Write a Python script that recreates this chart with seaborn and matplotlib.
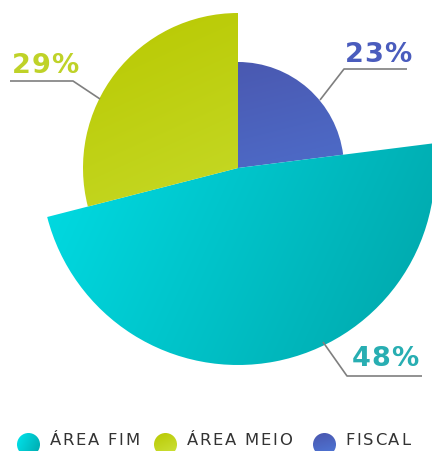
import numpy as np
import pandas as pd
import matplotlib
matplotlib.use("Agg")
import matplotlib.pyplot as plt
from matplotlib.patches import Wedge, Circle
import seaborn as sns

# data
categories = ["FISCAL", "ÁREA FIM", "ÁREA MEIO"]
shares = [23, 48, 29]
pct_labels = ["23%", "48%", "29%"]
legend_order = ["ÁREA FIM", "ÁREA MEIO", "FISCAL"]

# styling (per category)
radius = {"FISCAL": 106, "ÁREA FIM": 197, "ÁREA MEIO": 155}
grad = {  # start colour, end colour, gradient direction (dx, dy) in pixel space
    "FISCAL": ("#4a55ac", "#4f7bdc", (0.25, 1)),
    "ÁREA FIM": ("#00e6ee", "#00a5a9", (1, 0.45)),
    "ÁREA MEIO": ("#b8c800", "#cfe542", (0.45, 1)),
}
label_color = {"FISCAL": "#4a5cbd", "ÁREA FIM": "#28aeb2", "ÁREA MEIO": "#bfd228"}
# label text left/baseline and leader line (pixel coordinates)
label_pos = {"FISCAL": (345, 62), "ÁREA FIM": (352, 366), "ÁREA MEIO": (12, 73)}
leader = {
    "FISCAL": [(320, 100), (344, 69), (407, 69)],
    "ÁREA FIM": [(323, 342), (347, 376), (422, 376)],
    "ÁREA MEIO": [(100, 99), (73, 81), (10, 81)],
}

sns.set_theme(style="white")
plt.rcParams["font.family"] = ["DejaVu Sans"]

W, H = 432, 451
cx, cy = 238, 168

fig = plt.figure(figsize=(W / 100, H / 100), dpi=100)
ax = fig.add_axes([0, 0, 1, 1])
ax.set_xlim(0, W)
ax.set_ylim(H, 0)
ax.axis("off")
renderer = fig.canvas.get_renderer()


def spaced_text(x, y, s, track, **kw):
    # draw text letter by letter to imitate the wide tracking of the original
    for ch in s:
        t = ax.text(x, y, ch, ha="left", va="baseline", **kw)
        if ch == " ":
            w = kw.get("fontsize", 10) * 0.32 * 100 / 72
        else:
            w = t.get_window_extent(renderer).width
        x += w + track
    return x


def gradient_fill(patch, c0, c1, direction, bbox):
    x0, y0, x1, y1 = bbox
    xs = np.linspace(x0, x1, 200)
    ys = np.linspace(y0, y1, 200)
    X, Y = np.meshgrid(xs, ys)
    d = np.array(direction, float)
    d /= np.linalg.norm(d)
    t = X * d[0] + Y * d[1]
    t = (t - t.min()) / (t.max() - t.min())
    a = np.array(matplotlib.colors.to_rgb(c0))
    b = np.array(matplotlib.colors.to_rgb(c1))
    img = a[None, None, :] * (1 - t[..., None]) + b[None, None, :] * t[..., None]
    patch.set_facecolor("none")
    patch.set_edgecolor("none")
    ax.add_patch(patch)
    im = ax.imshow(img, extent=(x0, x1, y1, y0), origin="upper",
                   interpolation="bilinear", zorder=2)
    im.set_clip_path(patch)


df = pd.DataFrame({"category": categories, "share": shares, "label": pct_labels})
df["frac"] = df["share"] / df["share"].sum()
df["end"] = 90 - 360 * df["frac"].cumsum()
df["start"] = df["end"] + 360 * df["frac"]

for _, row in df.iterrows():
    cat = row["category"]
    r = radius[cat]
    # y axis is inverted, so visual angles are negated
    w = Wedge((cx, cy), r, -row["start"], -row["end"], linewidth=0)
    c0, c1, dvec = grad[cat]
    gradient_fill(w, c0, c1, dvec, (cx - r, cy - r, cx + r, cy + r))

    pts = leader[cat]
    ax.plot([p[0] for p in pts], [p[1] for p in pts], color="#7f7f7f",
            lw=1.2, zorder=3, solid_capstyle="butt")
    lx, ly = label_pos[cat]
    spaced_text(lx, ly, row["label"], 0.8, color=label_color[cat], fontsize=19.5,
                fontweight="bold", zorder=4)

# legend
leg_x = {"ÁREA FIM": 28.5, "ÁREA MEIO": 165.5, "FISCAL": 324.5}
for cat in legend_order:
    c0, c1, dvec = grad[cat]
    x = leg_x[cat]
    circ = Circle((x, 444.5), 11.5)
    gradient_fill(circ, c0, c1, dvec, (x - 12, 432, x + 12, 457))
    spaced_text(x + 21, 445, cat, 1.7, color="#333333", fontsize=11.8)

fig.savefig("out.png", dpi=100, facecolor="white")
